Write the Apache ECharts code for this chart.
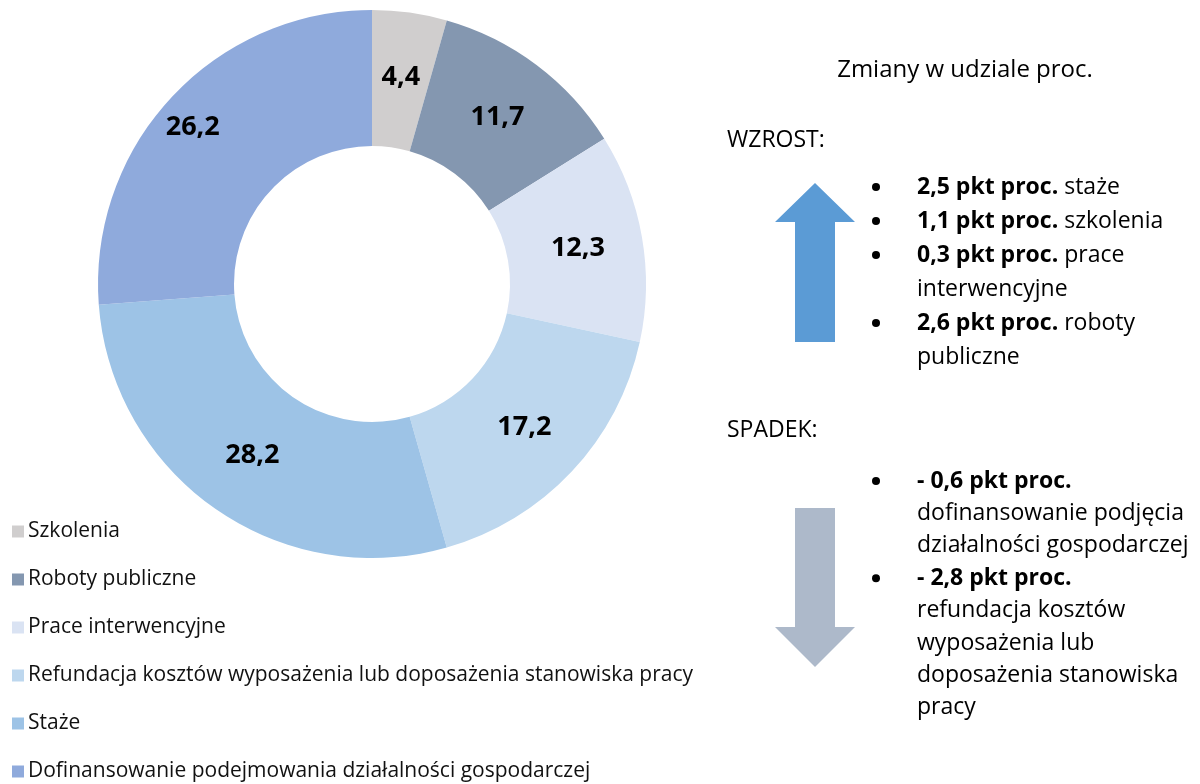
<!DOCTYPE html>
<html>
<head>
<meta charset="utf-8">
<script src="https://cdn.jsdelivr.net/npm/echarts@6/dist/echarts.min.js"></script>
<style>
  html, body { margin: 0; padding: 0; background: #fff; }
  #main { width: 1200px; height: 784px; }
</style>
</head>
<body>
<div id="main"></div>
<script>
// udział form aktywizacji (%)
var categories = [
  'Szkolenia',
  'Roboty publiczne',
  'Prace interwencyjne',
  'Refundacja kosztów wyposażenia lub doposażenia stanowiska pracy',
  'Staże',
  'Dofinansowanie podejmowania działalności gospodarczej'
];
var shares = [4.4, 11.7, 12.3, 17.2, 28.2, 26.2];
var colors = ['#D0CECE', '#8497B0', '#DAE3F3', '#BDD7EE', '#9DC3E6', '#8FAADC'];

// zmiany w udziale (tekst po prawej)
var upLines = [
  ['2,5 pkt proc.', ' staże', true],
  ['1,1 pkt proc.', ' szkolenia', true],
  ['0,3 pkt proc.', ' prace', true],
  ['', 'interwencyjne', false],
  ['2,6 pkt proc.', ' roboty', true],
  ['', 'publiczne', false]
];
var downLines = [
  ['- 0,6 pkt proc.', '', true],
  ['', 'dofinansowanie podjęcia', false],
  ['', 'działalności gospodarczej', false],
  ['- 2,8 pkt proc.', '', true],
  ['', 'refundacja kosztów', false],
  ['', 'wyposażenia lub', false],
  ['', 'doposażenia stanowiska', false],
  ['', 'pracy', false]
];

var FONT = '"Open Sans", "Noto Sans", sans-serif';
var myChart = echarts.init(document.getElementById('main'));

function listGraphics(lines, yStart, step) {
  var out = [];
  lines.forEach(function (l, i) {
    var y = yStart + i * step;
    if (l[2]) {
      out.push({
        type: 'circle', shape: { cx: 876, cy: y, r: 4 },
        style: { fill: '#000' }
      });
    }
    var txt = (l[0] ? '{b|' + l[0] + '}' : '') + (l[1] ? '{n|' + l[1] + '}' : '');
    out.push({
      type: 'text', x: 917, y: y,
      style: {
        text: txt, verticalAlign: 'middle',
        rich: {
          b: { fontFamily: FONT, fontSize: 23, fontWeight: 'bold', fill: '#000' },
          n: { fontFamily: FONT, fontSize: 23, fill: '#000' }
        }
      }
    });
  });
  return out;
}

var graphics = [
  { type: 'text', x: 965, y: 70,
    style: { text: 'Zmiany w udziale proc.', font: '24px ' + FONT, fill: '#000', align: 'center', verticalAlign: 'middle' } },
  { type: 'text', x: 727, y: 140,
    style: { text: 'WZROST:', font: '23px ' + FONT, fill: '#000', verticalAlign: 'middle' } },
  { type: 'text', x: 727, y: 430,
    style: { text: 'SPADEK:', font: '23px ' + FONT, fill: '#000', verticalAlign: 'middle' } },
  { type: 'polygon',
    shape: { points: [[815, 183], [855, 222], [835, 222], [835, 342], [795, 342], [795, 222], [775, 222]] },
    style: { fill: '#5B9BD5' } },
  { type: 'polygon',
    shape: { points: [[795, 508], [835, 508], [835, 627], [855, 627], [815, 667], [775, 627], [795, 627]] },
    style: { fill: '#ADB9CA' } }
].concat(listGraphics(upLines, 187, 34)).concat(listGraphics(downLines, 481, 32.4));

var option = {
  animation: false,
  color: colors,
  legend: {
    orient: 'vertical',
    left: 12,
    top: 521,
    height: 280,
    padding: 0,
    itemWidth: 12,
    itemHeight: 12,
    itemGap: 27,
    icon: 'rect',
    textStyle: { fontFamily: FONT, fontSize: 21, color: '#111', lineHeight: 21, padding: [0, 0, 0, -1] },
    data: categories
  },
  graphic: graphics,
  series: [{
    type: 'pie',
    radius: [138, 274],
    center: [372, 284],
    startAngle: 90,
    clockwise: true,
    avoidLabelOverlap: false,
    label: {
      position: 'inside',
      fontFamily: FONT,
      fontSize: 27,
      fontWeight: 'bold',
      color: '#000',
      formatter: function (p) { return String(p.value).replace('.', ','); }
    },
    labelLine: { show: false },
    itemStyle: { borderWidth: 0 },
    emphasis: { disabled: true },
    data: categories.map(function (c, i) {
      var d = { name: c, value: shares[i] };
      // Excel stawia etykietę ostatniego wycinka nieco wyżej
      if (i === 5) d.label = { offset: [-26, -15] };
      return d;
    })
  }]
};
myChart.setOption(option);
</script>
</body>
</html>
